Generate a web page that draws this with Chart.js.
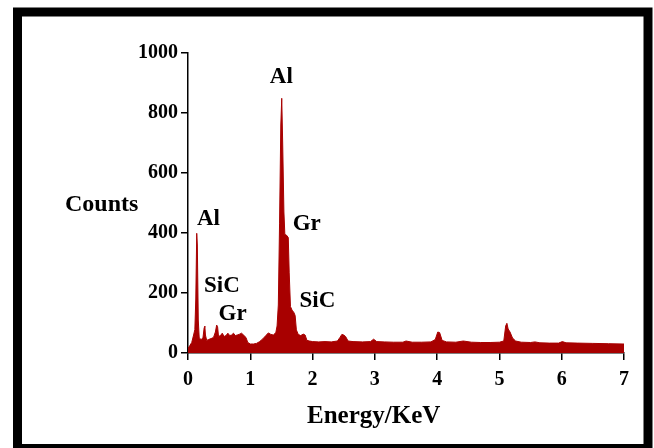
<!DOCTYPE html>
<html>
<head>
<meta charset="utf-8">
<script src="https://cdn.jsdelivr.net/npm/chart.js@4"></script>
<style>
  body { margin: 0; background: #fff; }
  canvas { display: block; }
</style>
</head>
<body>
<canvas id="eds" width="654" height="448"></canvas>
<script>
// EDS spectrum
const energies = [0.00, 0.03, 0.06, 0.09, 0.11, 0.125, 0.14, 0.15, 0.165, 0.18, 0.21, 0.24, 0.26, 0.27, 0.28, 0.30,
  0.33, 0.37, 0.41, 0.44, 0.46, 0.475, 0.49, 0.52, 0.55, 0.58, 0.61, 0.64, 0.67, 0.70, 0.73, 0.76, 0.79, 0.82,
  0.86, 0.90, 0.93, 0.96, 1.00, 1.05, 1.10, 1.15, 1.20, 1.25, 1.29, 1.33, 1.37, 1.41, 1.43, 1.45, 1.47, 1.49,
  1.505, 1.52, 1.54, 1.555, 1.58, 1.61, 1.625, 1.645, 1.67, 1.70, 1.72, 1.74, 1.77, 1.81, 1.85, 1.88, 1.91,
  1.95, 2.00, 2.10, 2.20, 2.30, 2.40, 2.44, 2.47, 2.50, 2.53, 2.57, 2.65, 2.80, 2.93, 2.98, 3.03, 3.15, 3.30,
  3.45, 3.50, 3.60, 3.75, 3.90, 3.97, 4.01, 4.04, 4.08, 4.15, 4.30, 4.42, 4.55, 4.70, 4.85, 5.00, 5.07, 5.10,
  5.12, 5.14, 5.17, 5.21, 5.26, 5.35, 5.50, 5.57, 5.65, 5.80, 5.95, 6.01, 6.07, 6.25, 6.50, 6.75, 7.00];
const counts = [15, 25, 35, 60, 78, 180, 399, 360, 110, 50, 45, 50, 85, 90, 60, 42,
  45, 48, 52, 70, 93, 88, 55, 58, 66, 55, 58, 66, 58, 60, 66, 58, 60, 62,
  66, 58, 52, 35, 30, 30, 32, 38, 47, 58, 67, 62, 60, 68, 90, 160, 433, 760,
  849, 700, 470, 395, 393, 385, 267, 155, 143, 135, 125, 77, 62, 58, 63, 60, 42,
  40, 38, 37, 38, 37, 40, 52, 62, 60, 55, 40, 38, 37, 38, 46, 38, 37, 36,
  36, 40, 36, 36, 37, 45, 70, 68, 42, 37, 36, 40, 36, 35, 35, 36, 40, 90,
  99, 80, 70, 50, 40, 36, 35, 37, 34, 33, 33, 38, 34, 33, 32, 31, 30];

const xTicks = [0, 1, 2, 3, 4, 5, 6, 7];
const yTicks = [0, 200, 400, 600, 800, 1000];

// peak labels: text, energy of centre, counts at baseline
const peakNames = ["Al", "Al", "Gr", "SiC", "Gr", "SiC"];
const peakEnergy = [1.498, 0.329, 1.907, 0.545, 0.716, 2.078];
const peakCounts = [900, 427, 410, 204, 110, 154];

const serif = "'Liberation Serif', 'Times New Roman', serif";
const red = "#a80000";

const spectrum = energies.map((e, i) => ({ x: e, y: counts[i] }));

const decor = {
  id: "decor",
  afterDraw(chart) {
    const ctx = chart.ctx;
    const xs = chart.scales.x, ys = chart.scales.y;
    ctx.save();
    ctx.fillStyle = "#000";
    ctx.textBaseline = "alphabetic";

    // peak labels
    ctx.font = "bold 23px " + serif;
    ctx.textAlign = "center";
    peakNames.forEach((n, i) => {
      ctx.fillText(n, xs.getPixelForValue(peakEnergy[i]), ys.getPixelForValue(peakCounts[i]));
    });

    // axis titles
    ctx.font = "bold 24px " + serif;
    ctx.textAlign = "left";
    ctx.fillText("Counts", 65, 211);
    ctx.font = "bold 25px " + serif;
    ctx.fillText("Energy/KeV", 307, 423);

    // frame
    ctx.strokeStyle = "#000";
    ctx.lineWidth = 9;
    ctx.strokeRect(17.5, 12, 630.5, 436.5);
    ctx.restore();
  }
};

new Chart(document.getElementById("eds"), {
  type: "line",
  data: {
    datasets: [{
      data: spectrum,
      borderColor: red,
      backgroundColor: red,
      borderWidth: 1,
      pointRadius: 0,
      tension: 0,
      fill: "origin"
    }]
  },
  options: {
    responsive: false,
    animation: false,
    layout: { padding: { left: 0, top: 53, right: 30, bottom: 0 } },
    plugins: { legend: { display: false }, tooltip: { enabled: false } },
    scales: {
      x: {
        type: "linear",
        min: 0,
        max: 7,
        afterFit(s) { s.height = 95; },
        afterBuildTicks(s) { s.ticks = xTicks.map(v => ({ value: v })); },
        ticks: { color: "#000", padding: 8, callback: v => String(v), font: { family: serif, size: 20, weight: "bold" } },
        grid: { drawOnChartArea: false, tickLength: 7, color: "#000", lineWidth: 1.5 },
        border: { color: "#000", width: 1.5 }
      },
      y: {
        min: 0,
        max: 1000,
        afterFit(s) { s.width = 188; },
        afterBuildTicks(s) { s.ticks = yTicks.map(v => ({ value: v })); },
        ticks: { color: "#000", padding: 3, callback: v => String(v), font: { family: serif, size: 20, weight: "bold" } },
        grid: { drawOnChartArea: false, tickLength: 7, color: "#000", lineWidth: 1.5 },
        border: { color: "#000", width: 1.5 }
      }
    }
  },
  plugins: [decor]
});
</script>
</body>
</html>
